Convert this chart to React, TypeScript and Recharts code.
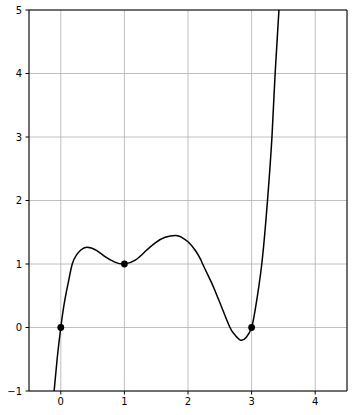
import {
  ComposedChart, Line, Scatter, XAxis, YAxis, CartesianGrid, ReferenceArea,
} from "recharts";

// curve samples
const curveX = [
  -0.105, -0.058, 0, 0.063, 0.126, 0.18, 0.245, 0.315, 0.41, 0.56, 0.69, 0.85,
  1.0, 1.17, 1.33, 1.48, 1.64, 1.81, 1.9, 2.0, 2.11, 2.19, 2.23, 2.35, 2.42,
  2.53, 2.66, 2.74, 2.83, 2.92, 3.0, 3.06, 3.16, 3.25, 3.32, 3.37, 3.43,
];
const curveY = [
  -1, -0.5, 0, 0.43, 0.75, 1.0, 1.14, 1.22, 1.265, 1.215, 1.12, 1.03,
  1.0, 1.06, 1.2, 1.33, 1.42, 1.45, 1.42, 1.35, 1.22, 1.09, 1.0, 0.75, 0.59,
  0.32, 0.0, -0.12, -0.2, -0.15, 0, 0.3, 1.0, 2.0, 3.0, 4.0, 5.0,
];

// marked points
const pointX = [0, 1, 3];
const pointY = [0, 1, 0];

const xTicks = [0, 1, 2, 3, 4];
const yTicks = [-1, 0, 1, 2, 3, 4, 5];

const curve = curveX.map((x, i) => ({ x, y: curveY[i] }));
const points = pointX.map((x, i) => ({ x, y: pointY[i] }));

const tickStyle = { fontFamily: "DejaVu Sans", fontSize: 10, fill: "#000" };
const fmt = (v: number) => String(v).replace("-", "\u2212");

export default function App() {
  return (
    <div style={{ position: "absolute", left: 0, top: 0, background: "#fff" }}>
      <ComposedChart
        width={356}
        height={415}
        data={curve}
        margin={{ top: 10, right: 9, bottom: 0, left: 0 }}
      >
        <CartesianGrid stroke="#b0b0b0" strokeWidth={0.8} />
        <XAxis
          type="number"
          dataKey="x"
          domain={[-0.5, 4.5]}
          ticks={xTicks}
          allowDataOverflow
          height={24}
          axisLine={false}
          tickLine={{ stroke: "#000" }}
          tickSize={3.5}
          tickMargin={3.5}
          tick={tickStyle}
          tickFormatter={fmt}
        />
        <YAxis
          type="number"
          dataKey="y"
          domain={[-1, 5]}
          ticks={yTicks}
          allowDataOverflow
          width={29}
          axisLine={false}
          tickLine={{ stroke: "#000" }}
          tickSize={3.5}
          tickMargin={3.5}
          tick={tickStyle}
          tickFormatter={fmt}
        />
        <Line
          type="natural"
          dataKey="y"
          stroke="#000"
          strokeWidth={1.5}
          dot={false}
          activeDot={false}
          isAnimationActive={false}
        />
        <Scatter
          data={points}
          dataKey="y"
          fill="#000"
          shape={(p: any) => <circle cx={p.cx} cy={p.cy} r={3.4} fill="#000" />}
          isAnimationActive={false}
        />
        <ReferenceArea
          x1={-0.5}
          x2={4.5}
          y1={-1}
          y2={5}
          fill="none"
          fillOpacity={0}
          stroke="#000"
          strokeWidth={1}
        />
      </ComposedChart>
    </div>
  );
}
